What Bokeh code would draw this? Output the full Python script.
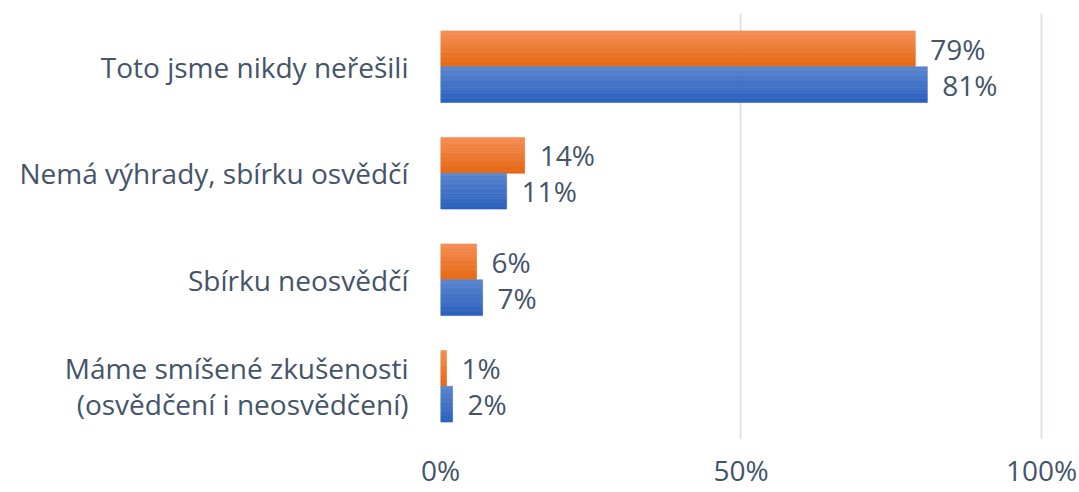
from bokeh.plotting import figure
from bokeh.models import FactorRange, Range1d, FixedTicker, ColumnDataSource
from bokeh.transform import dodge
from bokeh.core.properties import value
from bokeh.embed import file_html
from bokeh.resources import INLINE

# ---- data ----
categories = [
    "Toto jsme nikdy neřešili",
    "Nemá výhrady, sbírku osvědčí",
    "Sbírku neosvědčí",
    "Máme smíšené zkušenosti\n(osvědčení i neosvědčení)",
]
orange_vals = [79, 14, 6, 1]
blue_vals = [81, 11, 7, 2]
x_ticks = [0, 50, 100]
x_tick_labels = ["0%", "50%", "100%"]

# ---- style ----
FONT = "Open Sans"
TXT = "#44546a"
ORANGE_TOP, ORANGE_BOT = (244, 142, 84), (230, 104, 20)
BLUE_TOP, BLUE_BOT = (90, 132, 206), (44, 98, 190)
BAR_H = 0.336
N_STRIPS = 14

factors = list(reversed(categories))  # bottom to top

p = figure(
    width=1079, height=492,
    y_range=FactorRange(factors=factors, range_padding=0),
    x_range=Range1d(0, 100.5),
    output_backend="svg", toolbar_location=None,
    min_border_left=440, min_border_right=35,
    min_border_top=13, min_border_bottom=53,
)
p.outline_line_color = None
p.background_fill_color = "white"
p.border_fill_color = "white"


def hexcol(c):
    return "#%02x%02x%02x" % tuple(int(round(v)) for v in c)


def grad_bars(vals, center, top, bot):
    src = ColumnDataSource(dict(cat=categories, v=vals))
    for k in range(N_STRIPS):
        t = k / (N_STRIPS - 1)
        col = hexcol([top[i] + (bot[i] - top[i]) * t for i in range(3)])
        off = center + BAR_H / 2 - (k + 0.5) * BAR_H / N_STRIPS
        p.hbar(y=dodge("cat", off, range=p.y_range), right="v", left=0,
               height=BAR_H / N_STRIPS * 1.02, source=src,
               fill_color=col, line_color=col, line_width=0.6)
    lab = ColumnDataSource(dict(cat=categories, v=vals,
                                t=["%d%%" % v for v in vals]))
    p.text(x="v", y=dodge("cat", center, range=p.y_range), text="t",
           source=lab, x_offset=15, text_align="left", text_baseline="middle",
           text_font=value(FONT), text_font_size="28px", text_color=TXT)


grad_bars(orange_vals, BAR_H / 2, ORANGE_TOP, ORANGE_BOT)
grad_bars(blue_vals, -BAR_H / 2, BLUE_TOP, BLUE_BOT)

# x axis
xa = p.xaxis[0]
xa.ticker = FixedTicker(ticks=x_ticks)
xa.major_label_overrides = {t: l for t, l in zip(x_ticks, x_tick_labels)}
xa.axis_line_color = None
xa.major_tick_line_color = None
xa.minor_tick_line_color = None
xa.major_tick_in = 0
xa.major_tick_out = 0
xa.minor_tick_out = 0
xa.major_label_standoff = 11
xa.major_label_text_font = FONT
xa.major_label_text_font_size = "28px"
xa.major_label_text_color = TXT

# y axis
ya = p.yaxis[0]
ya.axis_line_color = None
ya.major_tick_line_color = None
ya.minor_tick_line_color = None
ya.major_tick_in = 0
ya.major_tick_out = 0
ya.minor_tick_out = 0
ya.major_label_standoff = 32
ya.major_label_text_font = FONT
ya.major_label_text_font_size = "28px"
ya.major_label_text_color = TXT
ya.major_label_text_line_height = 0.95

p.xgrid.ticker = FixedTicker(ticks=x_ticks)
p.xgrid.grid_line_color = "#dfe2e7"
p.xgrid.grid_line_width = 2
p.ygrid.grid_line_color = None

open("out.html", "w").write(file_html(p, INLINE))
